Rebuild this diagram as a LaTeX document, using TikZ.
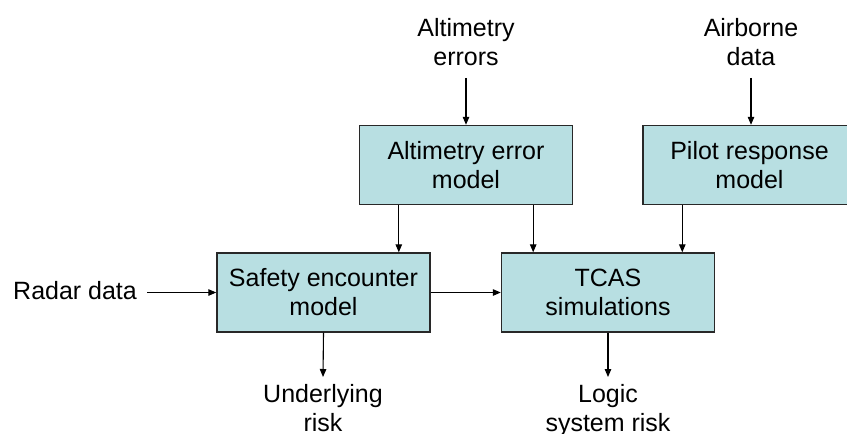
\documentclass[tikz,border=0pt]{standalone}
\usepackage{fontspec}
\setmainfont{Liberation Sans}
\usetikzlibrary{arrows.meta}
\definecolor{boxfill}{RGB}{184,223,226}
\definecolor{boxline}{RGB}{40,40,40}
\begin{document}
\begin{tikzpicture}[x=1pt,y=-1pt,
  font=\fontsize{25}{29}\selectfont,
  block/.style={draw=boxline, line width=1.4pt, fill=boxfill,
    minimum width=213pt, minimum height=79pt, inner sep=0pt, align=center},
  lbl/.style={inner sep=0pt, align=center},
  arr/.style={line width=1.1pt, -{Triangle[length=8pt,width=6.5pt]}}]
  \useasboundingbox (0,0) rectangle (847,434);
  \clip (0,0) rectangle (847,434);

  % model blocks
  \node[block] (altbox) at (466,165) {Altimetry error\\model};
  \node[block] (pilot)  at (749.5,165) {Pilot response\\model};
  \node[block] (safety) at (323.5,292.5) {Safety encounter\\model};
  \node[block] (tcas)   at (608,292.5) {TCAS\\simulations};

  % inputs and outputs
  \node[lbl, anchor=north] (alterr)  at (466,18) {Altimetry\\errors};
  \node[lbl, anchor=north] (airdata) at (751,18) {Airborne\\data};
  \node[lbl, anchor=base west] (radar) at (13,299) {Radar data};
  \node[lbl, anchor=north] (under) at (323,384) {Underlying\\risk};
  \node[lbl, anchor=north] (logic) at (608,384) {Logic\\system risk};

  % connectors
  \draw[arr] ([yshift=-12pt]alterr.south) -- (altbox.north);
  \draw[arr] ([yshift=-12pt]airdata.south) -- (airdata.south |- pilot.north);
  \draw[arr] ([xshift=10pt]radar.east |- safety.west) -- (safety.west);
  \draw[arr] ([xshift=40pt]altbox.south west) -- ([xshift=40pt]altbox.south west |- safety.north);
  \draw[arr] ([xshift=-40pt]altbox.south east) -- ([xshift=-40pt]altbox.south east |- tcas.north);
  \draw[arr] ([xshift=40pt]pilot.south west) -- ([xshift=40pt]pilot.south west |- tcas.north);
  \draw[arr] (safety.east) -- (tcas.west);
  \draw[arr] (safety.south) -- ([yshift=7pt]under.north);
  \draw[arr] (tcas.south) -- ([yshift=7pt]logic.north);
\end{tikzpicture}
\end{document}
